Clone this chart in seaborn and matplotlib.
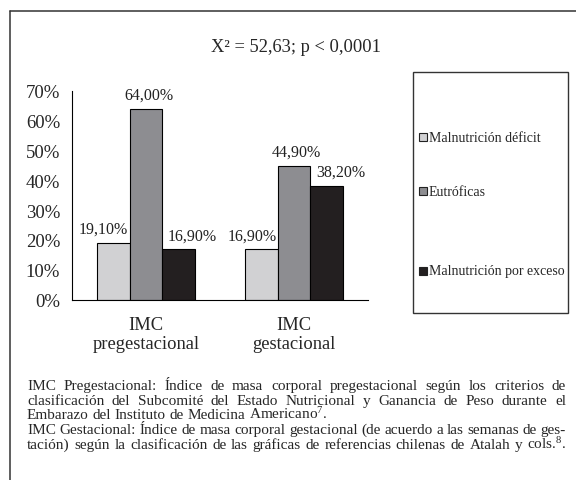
import matplotlib
matplotlib.use("Agg")
import matplotlib.pyplot as plt
import pandas as pd
import seaborn as sns
from matplotlib.patches import Rectangle
from matplotlib.lines import Line2D

# data
groups = ["IMC\npregestacional", "IMC\ngestacional"]
categories = ["Malnutrición déficit", "Eutróficas", "Malnutrición por exceso"]
deficit = [19.1, 16.9]
eutroficas = [64.0, 44.9]
exceso = [16.9, 38.2]
colors = ["#d1d1d3", "#8d8d91", "#231f20"]
yticks = [0, 10, 20, 30, 40, 50, 60, 70]
title = "X² = 52,63; p < 0,0001"
notes = [
    ("IMC Pregestacional: Índice de masa corporal pregestacional según los criterios de", True),
    ("clasificación del Subcomité del Estado Nutricional y Ganancia de Peso durante el", True),
    ("Embarazo del Instituto de Medicina Americano$^{7}$.", False),
    ("IMC Gestacional: Índice de masa corporal gestacional (de acuerdo a las semanas de ges-", True),
    ("tación) según la clasificación de las gráficas de referencias chilenas de Atalah y cols.$^{8}$.", True),
]

W, H = 576, 481

sns.set_style("white")
plt.rcParams["font.family"] = ["Liberation Serif", "DejaVu Serif"]
plt.rcParams["mathtext.fontset"] = "custom"
plt.rcParams["mathtext.rm"] = "Liberation Serif"
plt.rcParams["mathtext.it"] = "Liberation Serif:italic"

df = pd.DataFrame({
    "grupo": groups * 3,
    "categoria": [c for c in categories for _ in groups],
    "valor": deficit + eutroficas + exceso,
})

fig = plt.figure(figsize=(W / 100, H / 100), dpi=100)
ax = fig.add_axes([72 / W, 1 - 300.7 / H, (368 - 72) / W, (300.7 - 91.7) / H])

sns.barplot(data=df, x="grupo", y="valor", hue="categoria", hue_order=categories,
            palette=colors, saturation=1, width=0.66, edgecolor="black",
            linewidth=0.8, legend=False, ax=ax)

# value labels, shifted sideways like the original
shifts = [-7, 2, 10]
for cont, dx in zip(ax.containers, shifts):
    for bar in cont:
        v = bar.get_height()
        ax.annotate(f"{v:.2f}%".replace(".", ","), (bar.get_x() + bar.get_width() / 2, v),
                    xytext=(dx, 4), textcoords="offset points", ha="center", va="bottom",
                    fontsize=11.5, color="#222222")

ax.set_ylim(0, 70)
ax.set_yticks(yticks)
ax.set_yticklabels([f"{t}%" for t in yticks], fontsize=13.5)
ax.set_xlim(-0.5, 1.5)
ax.set_xticks([-0.5, 0.5, 1.5])
ax.set_xticklabels([])
ax.set_xticks([0, 1], minor=True)
ax.set_xticklabels(groups, minor=True, fontsize=13.3, linespacing=1.15)
ax.tick_params(axis="x", which="major", direction="out", length=5, width=0.8, color="black")
ax.tick_params(axis="x", which="minor", length=0, pad=12)
ax.tick_params(axis="y", direction="out", length=3.5, width=0.8, color="black", pad=5)
ax.set_xlabel("")
ax.set_ylabel("")
for s in ["top", "right"]:
    ax.spines[s].set_visible(False)
for s in ["left", "bottom"]:
    ax.spines[s].set_color("black")
    ax.spines[s].set_linewidth(0.8)

fig.text(296 / W, 1 - 47 / H, title, ha="center", va="center", fontsize=13.3)

# outer frame (left and top only)
fig.add_artist(Line2D([10 / W, 10 / W], [0, 1 - 12 / H], color="#333333", lw=1.1))
fig.add_artist(Line2D([10 / W, 1], [1 - 12 / H, 1 - 12 / H], color="#333333", lw=1.1))

# legend box
fig.add_artist(Rectangle((413 / W, 1 - 314 / H), (568 - 413) / W, (314 - 73) / H,
                         fill=False, edgecolor="#333333", lw=1, transform=fig.transFigure))
for cat, col, yc in zip(categories, colors, [138, 192, 272]):
    fig.add_artist(Rectangle((419 / W, 1 - (yc + 4) / H), 8 / W, 8 / H, facecolor=col,
                             edgecolor="#222222", lw=0.8, transform=fig.transFigure))
    fig.text(429 / W, 1 - yc / H, cat, ha="left", va="center", fontsize=10)

# justified footnote
renderer = fig.canvas.get_renderer()
x0, x1 = 27, 566
size = 11
for i, (line, stretch) in enumerate(notes):
    yb = 390 + i * 14.75
    words = line.split(" ")
    objs = [fig.text(0, 1 - yb / H, w, fontsize=size, va="baseline", ha="left") for w in words]
    widths = [o.get_window_extent(renderer).width for o in objs]
    if stretch:
        gap = (x1 - x0 - sum(widths)) / (len(words) - 1)
    else:
        gap = size * 1.389 * 0.25
    x = x0
    for o, w in zip(objs, widths):
        o.set_x(x / W)
        x += w + gap

fig.savefig("out.png", dpi=100)
